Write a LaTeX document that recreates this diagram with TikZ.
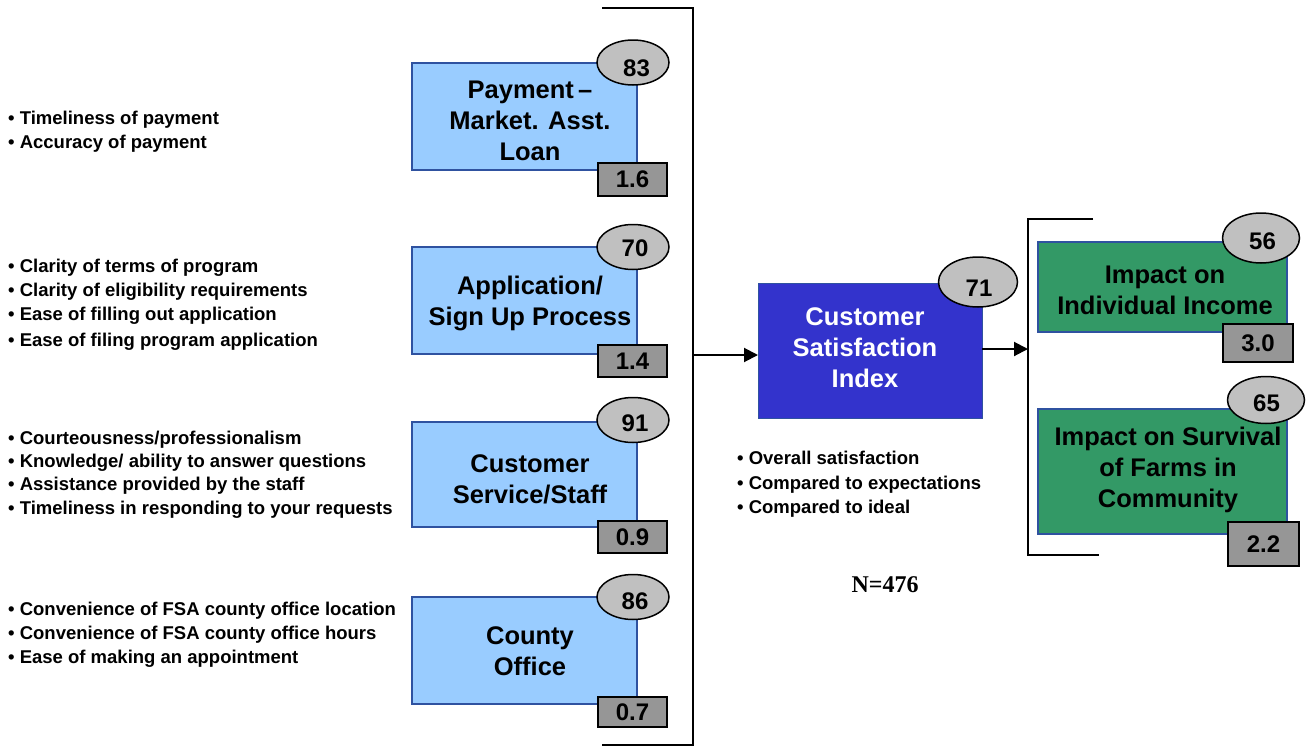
\documentclass[tikz,border=0pt]{standalone}
\usepackage{fontspec}
\setmainfont{Liberation Sans}
\newfontfamily\serifN{Liberation Serif}
\usetikzlibrary{shapes.geometric,arrows.meta}
\definecolor{lblue}{RGB}{153,204,255}
\definecolor{bborder}{RGB}{47,82,160}
\definecolor{csiblue}{RGB}{51,51,204}
\definecolor{fgreen}{RGB}{51,153,102}
\definecolor{ellgrey}{RGB}{192,192,192}
\definecolor{boxgrey}{RGB}{150,150,150}
\begin{document}
\begin{tikzpicture}[x=1pt,y=-1pt,
  drv/.style={rectangle, draw=bborder, line width=2pt, fill=lblue, inner sep=0pt, outer sep=0pt},
  csibox/.style={rectangle, draw=bborder, line width=1pt, fill=csiblue, inner sep=0pt, outer sep=0pt},
  outbox/.style={rectangle, draw=bborder, line width=2pt, fill=fgreen, inner sep=0pt, outer sep=0pt},
  boxtext/.style={align=center, font=\bfseries\fontsize{25.5}{31}\selectfont, inner sep=0pt},
  score/.style={ellipse, draw=black, line width=1.5pt, fill=ellgrey, inner sep=0pt},
  num/.style={inner sep=0pt, font=\bfseries\fontsize{24}{28}\selectfont},
  impact/.style={rectangle, draw=black, line width=2pt, fill=boxgrey, inner sep=0pt, font=\bfseries\fontsize{24}{28}\selectfont},
  bul/.style={anchor=west, inner sep=0pt, font=\bfseries\fontsize{18.5}{22}\selectfont, text height=13pt, text depth=0pt},
  bracket/.style={line width=2pt},
  arr/.style={line width=2pt, -{Triangle[length=14pt,width=14pt]}}
]
\useasboundingbox (0,0) rectangle (1310,747);

% brackets
\coordinate (LT) at (602,8);
\coordinate (LTc) at (693,8);
\coordinate (LBc) at (693,745);
\coordinate (LB) at (602,745);
\draw[bracket] (LT) -- (LTc) -- (LBc) -- (LB);
\coordinate (RT) at (1093,219);
\coordinate (RTc) at (1028,219);
\coordinate (RBc) at (1028,555);
\coordinate (RB) at (1099,555);
\draw[bracket] (RT) -- (RTc) -- (RBc) -- (RB);

% driver boxes
\node[drv, minimum width=225pt, minimum height=107pt] (b1) at (524.5,116.5) {};
\node[boxtext] (t1) at (530,121) {Payment\,--\\Market. Asst.\\Loan};
\node[score, minimum width=72pt, minimum height=45pt] (e1) at (633,62.5) {};
\node[num] (n1) at (636.5,68) {83};
\node[impact, minimum width=69pt, minimum height=33pt] (g1) at (632.5,179.5) {1.6};

\node[drv, minimum width=225pt, minimum height=107pt] (b2) at (524.5,300.5) {};
\node[boxtext] (t2) at (530,303) {Application/\\Sign Up Process};
\node[score, minimum width=72pt, minimum height=45pt] (e2) at (633,247) {};
\node[num] (n2) at (635,248) {70};
\node[impact, minimum width=69pt, minimum height=32pt] (g2) at (632.5,361) {1.4};

\node[drv, minimum width=225pt, minimum height=105pt] (b3) at (524.5,474.5) {};
\node[boxtext] (t3) at (530,479) {Customer\\Service/Staff};
\node[score, minimum width=72pt, minimum height=45pt] (e3) at (633,420) {};
\node[num] (n3) at (635,423) {91};
\node[impact, minimum width=69pt, minimum height=32pt] (g3) at (632.5,537) {0.9};

\node[drv, minimum width=225pt, minimum height=107pt] (b4) at (524.5,650.5) {};
\node[boxtext] (t4) at (530,651.5) {County\\Office};
\node[score, minimum width=72pt, minimum height=45pt] (e4) at (633,597) {};
\node[num] (n4) at (635,601) {86};
\node[impact, minimum width=69pt, minimum height=30pt] (g4) at (632.5,712) {0.7};

% CSI
\node[csibox, minimum width=224pt, minimum height=135pt] (csi) at (870,350.5) {};
\node[boxtext, text=white] (tc) at (865,348) {Customer\\Satisfaction\\Index};
\node[score, minimum width=79pt, minimum height=50pt] (e71) at (978,282) {};
\node[num] (n71) at (979,288) {71};

% outcomes
\node[outbox, minimum width=249pt, minimum height=90pt] (o1) at (1162.5,287) {};
\node[boxtext] (to1) at (1165,290) {Impact on\\Individual Income};
\node[score, minimum width=77pt, minimum height=50pt] (e56) at (1261,238) {};
\node[num] (n56) at (1262.5,241) {56};
\node[impact, minimum width=70pt, minimum height=38pt] (g30) at (1258,343) {3.0};

\node[outbox, minimum width=249pt, minimum height=125pt] (o2) at (1162.5,471.5) {};
\node[boxtext] (to2) at (1168,469.5) {Impact on Survival\\of Farms in\\Community};
\node[score, minimum width=77pt, minimum height=47pt] (e65) at (1266,400) {};
\node[num] (n65) at (1266.5,403.5) {65};
\node[impact, minimum width=71pt, minimum height=44pt] (g22) at (1263.5,544) {2.2};

% arrows
\coordinate (jL) at (693,355);
\draw[arr] (jL) -- (jL -| csi.west);
\coordinate (jR) at (1028,349);
\draw[arr] (jR -| csi.east) -- (jR);

% bullets
\node[bul] (a1) at (8,118) {• Timeliness of payment};
\node[bul] (a2) at (8,142) {• Accuracy of payment};
\node[bul] (c1) at (8,266) {• Clarity of terms of program};
\node[bul] (c2) at (8,290) {• Clarity of eligibility requirements};
\node[bul] (c3) at (8,314) {• Ease of filling out application};
\node[bul] (c4) at (8,340) {• Ease of filing program application};
\node[bul] (s1) at (8,438) {• Courteousness/professionalism};
\node[bul] (s2) at (8,461) {• Knowledge/ ability to answer questions};
\node[bul] (s3) at (8,484) {• Assistance provided by the staff};
\node[bul] (s4) at (8,508) {• Timeliness in responding to your requests};
\node[bul] (f1) at (8,609) {• Convenience of FSA county office location};
\node[bul] (f2) at (8,633) {• Convenience of FSA county office hours};
\node[bul] (f3) at (8,657) {• Ease of making an appointment};
\node[bul] (m1) at (737,458) {• Overall satisfaction};
\node[bul] (m2) at (737,483) {• Compared to expectations};
\node[bul] (m3) at (737,507) {• Compared to ideal};

\node[inner sep=0pt, font=\serifN\bfseries\fontsize{24}{28}\selectfont] (n) at (885,585) {N=476};
\end{tikzpicture}
\end{document}
